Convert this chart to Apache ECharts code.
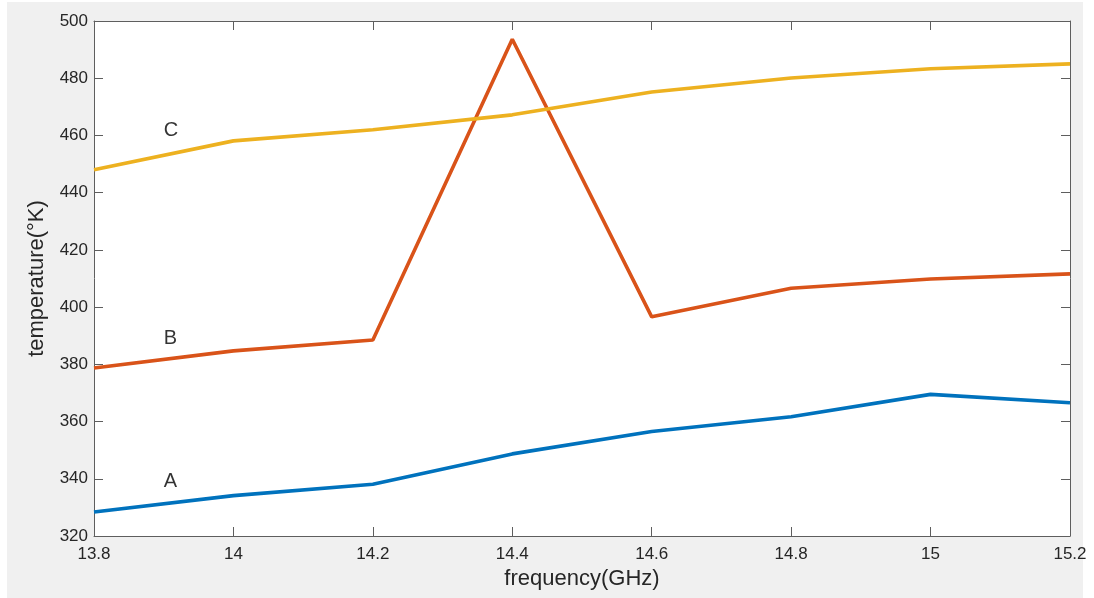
<!DOCTYPE html>
<html>
<head>
<meta charset="utf-8">
<script src="https://cdn.jsdelivr.net/npm/echarts@6/dist/echarts.min.js"></script>
<style>
  html, body { margin: 0; padding: 0; background: #ffffff; }
  #chart { width: 1094px; height: 598px; }
</style>
</head>
<body>
<div id="chart"></div>
<script>
// Frequency sweep (GHz) and measured temperatures (°K) for three configurations
const freq = [13.8, 14, 14.2, 14.4, 14.6, 14.8, 15, 15.2];
const tempA = [328.4, 334.1, 338.1, 348.7, 356.5, 361.7, 369.5, 366.6];
const tempB = [378.7, 384.7, 388.5, 493.6, 396.6, 406.6, 409.8, 411.6];
const tempC = [448.0, 458.1, 462.0, 467.2, 475.2, 480.1, 483.3, 485.0];

// Curve annotations
const noteText = ['A', 'B', 'C'];
const noteFreq = [13.9, 13.9, 13.9];
const noteTemp = [339.2, 389.2, 461.6];

const FONT = '"Liberation Sans", Arial, Helvetica, sans-serif';
const AXIS_COLOR = '#5e5e5e';
const TEXT_COLOR = '#262626';

const pairs = (xs, ys) => xs.map((x, i) => [x, ys[i]]);
const fmtX = v => String(+(+v).toFixed(1));

const chart = echarts.init(document.getElementById('chart'), null, { renderer: 'canvas' });

const baseAxisLine = { show: true, lineStyle: { color: AXIS_COLOR, width: 1 } };
const baseTick = { show: true, inside: true, length: 9, lineStyle: { color: AXIS_COLOR, width: 1 } };

chart.setOption({
  animation: false,
  backgroundColor: '#ffffff',
  graphic: [{
    type: 'rect',
    z: -10,
    silent: true,
    shape: { x: 7, y: 2, width: 1076, height: 596 },
    style: { fill: '#f0f0f0' }
  }],
  grid: {
    left: 94, top: 21, right: 24, bottom: 62,
    show: true, backgroundColor: '#ffffff', borderWidth: 0
  },
  xAxis: [{
    type: 'value', position: 'bottom',
    min: 13.8, max: 15.2, interval: 0.2,
    axisLine: baseAxisLine, axisTick: baseTick, splitLine: { show: false },
    axisLabel: { color: TEXT_COLOR, fontFamily: FONT, fontSize: 17, margin: 10, formatter: fmtX },
    name: 'frequency(GHz)', nameLocation: 'middle', nameGap: 31,
    nameTextStyle: { color: TEXT_COLOR, fontFamily: FONT, fontSize: 22 }
  }, {
    type: 'value', position: 'top',
    min: 13.8, max: 15.2, interval: 0.2,
    axisLine: baseAxisLine, axisTick: baseTick, splitLine: { show: false },
    axisLabel: { show: false }
  }],
  yAxis: [{
    type: 'value', position: 'left',
    min: 320, max: 500, interval: 20,
    axisLine: baseAxisLine, axisTick: baseTick, splitLine: { show: false },
    axisLabel: { color: TEXT_COLOR, fontFamily: FONT, fontSize: 17, margin: 6 },
    name: 'temperature(°K)', nameLocation: 'middle', nameGap: 46, nameRotate: 90,
    nameTextStyle: { color: TEXT_COLOR, fontFamily: FONT, fontSize: 22 }
  }, {
    type: 'value', position: 'right',
    min: 320, max: 500, interval: 20,
    axisLine: baseAxisLine, axisTick: baseTick, splitLine: { show: false },
    axisLabel: { show: false }
  }],
  series: [
    { name: 'A', type: 'line', data: pairs(freq, tempA), showSymbol: false, symbol: 'none',
      lineStyle: { color: '#0072BD', width: 3.6 }, itemStyle: { color: '#0072BD' } },
    { name: 'B', type: 'line', data: pairs(freq, tempB), showSymbol: false, symbol: 'none',
      lineStyle: { color: '#D95319', width: 3.6 }, itemStyle: { color: '#D95319' } },
    { name: 'C', type: 'line', data: pairs(freq, tempC), showSymbol: false, symbol: 'none',
      lineStyle: { color: '#EDB120', width: 3.6 }, itemStyle: { color: '#EDB120' } },
    {
      type: 'scatter', symbolSize: 0, silent: true,
      data: noteText.map((t, i) => ({ value: [noteFreq[i], noteTemp[i]], name: t })),
      label: {
        show: true, position: 'right', distance: 0,
        formatter: p => p.name,
        color: '#000000', fontFamily: FONT, fontSize: 20
      }
    }
  ]
});
</script>
</body>
</html>
